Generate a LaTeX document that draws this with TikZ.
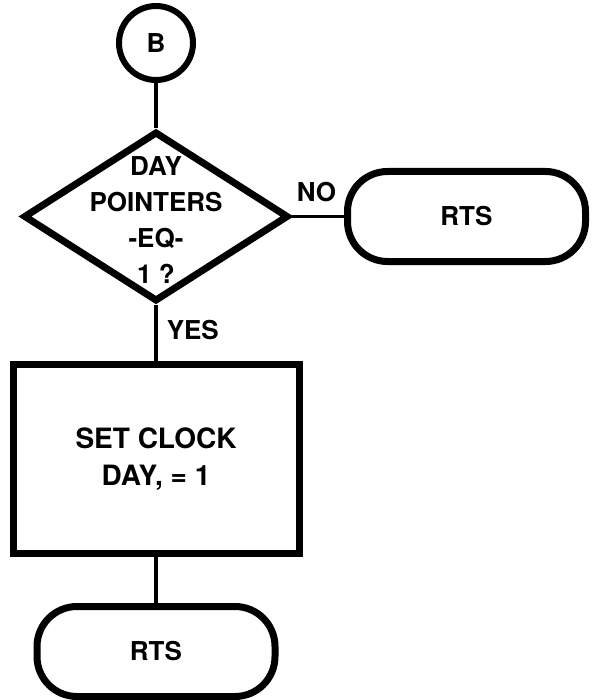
\documentclass[tikz,border=0pt]{standalone}
\usepackage{fontspec}
\setmainfont{TeX Gyre Heros}
\usetikzlibrary{positioning, shapes.geometric}

\begin{document}
\begin{tikzpicture}[x=1pt, y=1pt, font=\fontsize{26}{36}\selectfont\bfseries,
    term/.style={draw, circle, line width=6pt, minimum size=74pt, inner sep=0pt},
    decision/.style={draw, diamond, line width=7pt, minimum width=265pt, minimum height=170pt, inner sep=0pt},
    proc/.style={draw, rectangle, line width=7pt, minimum width=286pt, minimum height=189pt, align=center,
      font=\fontsize{28}{37}\selectfont\bfseries},
    rts/.style={draw, rectangle, rounded corners=40pt, line width=7pt, minimum width=238pt, minimum height=90pt},
    lnk/.style={line width=3.5pt},
    lbl/.style={inner sep=3pt}]
    \useasboundingbox (0,0) rectangle (597,-700);

    \node[term] (entry) at (156,-43) {B};
    \node[decision, below=45pt of entry] (chk) {};
    \node[align=center, yshift=-4pt] (chktxt) at (chk) {DAY\\POINTERS\\-EQ-\\1 ?};
    \node[rts, right=52pt of chk] (rtsno) {RTS};
    \node[proc, below=56pt of chk] (setday) {SET CLOCK\\DAY, = 1};
    \node[rts, below=46pt of setday] (rtsend) {RTS};

    \draw[lnk] (entry) -- (chk);
    \draw[lnk] (chk) -- node[lbl, pos=0, anchor=south west, yshift=10pt] (no) {NO} (rtsno);
    \draw[lnk] (chk) -- node[lbl, pos=0.45, anchor=west, xshift=6pt] (yes) {YES} (setday);
    \draw[lnk] (setday) -- (rtsend);
\end{tikzpicture}
\end{document}
